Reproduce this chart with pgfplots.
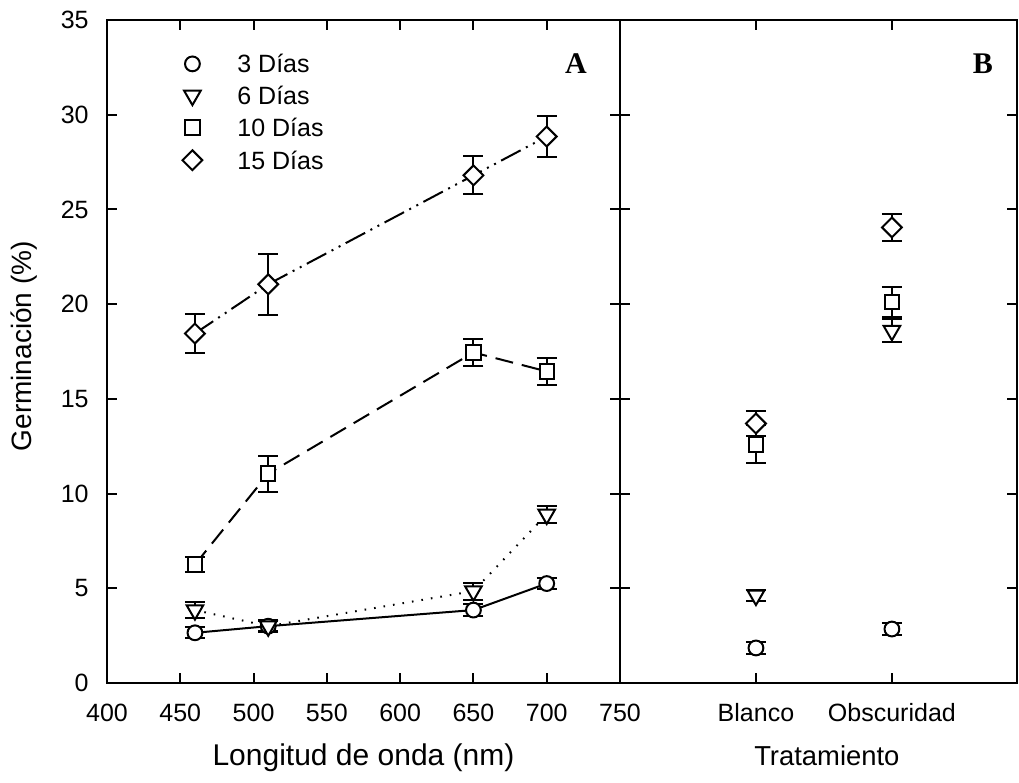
\documentclass[border=0pt]{standalone}
\usepackage{fontspec}
\setmainfont{Liberation Sans}
\newfontfamily\seriffam{Liberation Serif}
\usepackage{pgfplots}
\pgfplotsset{compat=1.18}
\usepackage{pgfplotstable}

% panel A: wavelength (nm), mean, error
\pgfplotstableread{
x y e
460 2.65 0.30
510 3.00 0.25
650 3.85 0.30
700 5.25 0.28
}\atres
\pgfplotstableread{
x y e
460 3.85 0.40
510 3.00 0.30
650 4.85 0.45
700 8.90 0.45
}\aseis
\pgfplotstableread{
x y e
460 6.25 0.40
510 11.05 0.95
650 17.45 0.70
700 16.45 0.70
}\adiez
\pgfplotstableread{
x y e
460 18.45 1.05
510 21.05 1.60
650 26.80 1.00
700 28.85 1.08
}\aquince

% panel B: 1 = Blanco, 2 = Obscuridad
\pgfplotstableread{
x y e
1 1.85 0.30
2 2.85 0.30
}\btres
\pgfplotstableread{
x y e
1 4.62 0.30
2 18.60 0.60
}\bseis
\pgfplotstableread{
x y e
1 12.60 1.00
2 20.10 0.80
}\bdiez
\pgfplotstableread{
x y e
1 13.70 0.67
2 24.05 0.72
}\bquince

\pgfplotsset{
  panel/.style={
    scale only axis, height=331.5pt,
    axis line style={line width=1pt},
    tick style={line width=1pt, black},
    tick align=inside, major tick length=5pt,
    ymin=0, ymax=35, ytick={0,5,...,35},
    xtick pos=both, ytick pos=both,
    xticklabel pos=lower, yticklabel pos=left,
    ticklabel style={font=\fontsize{12.5}{15}\selectfont},
    xticklabel style={anchor=north, inner sep=0pt, text height=9pt, text depth=0pt, yshift=-10pt},
    yticklabel style={anchor=east, inner sep=0pt, xshift=-9pt},
    /pgf/number format/assume math mode=true,
    clip=false,
  },
  errs/.style={error bars/.cd, y dir=both, y explicit, error mark=|,
    error bar style={solid, line width=1pt, black},
    error mark options={solid, line width=1pt, black, mark size=5pt}},
  d3/.style={black, line width=1pt, solid, mark=*, mark size=3.7pt,
    mark options={solid, fill=white, draw=black}},
  d6/.style={black, line width=1pt, dash pattern=on 0.8pt off 4pt, mark=triangle*, mark size=4.8pt,
    mark options={solid, fill=white, draw=black, rotate=180}},
  d10/.style={black, line width=1pt, dash pattern=on 9pt off 4.5pt, mark=square*, mark size=3.6pt,
    mark options={solid, fill=white, draw=black}},
  d15/.style={black, line width=1pt, dash pattern=on 11pt off 3pt on 1pt off 3pt on 1pt off 3pt,
    mark=square*, mark size=3.5pt, mark options={solid, fill=white, draw=black, rotate=45}},
}

\begin{document}
\begin{tikzpicture}
\begin{axis}[panel,
    at={(0,0)}, anchor=south west, width=256.5pt,
    xmin=400, xmax=750, xtick={400,450,...,750},
    xlabel={Longitud de onda (nm)},
    xlabel style={font=\fontsize{15}{18}\selectfont, at={(axis description cs:0.5,-0.1237)}, anchor=base},
    ylabel={Germinación (\%)},
    ylabel style={font=\fontsize{14}{17}\selectfont, at={(axis description cs:-0.1618,0.508)}, anchor=center},
    legend style={draw=none, fill=none, inner sep=0pt, at={(axis description cs:0.1326,0.948)}, anchor=north west,
      font=\fontsize{12.5}{15}\selectfont, row sep=6.8pt, column sep=14pt,
      nodes={inner sep=0pt, text height=9pt, text depth=0pt}},
    legend cell align=left,
    legend image code/.code={\path[draw=none, fill=none] (-8.5pt,-4.5pt) rectangle (8.5pt,4.5pt);
      \draw[#1] plot coordinates {(0pt,0pt)};},
  ]
  \addplot[d3, errs] table[x=x, y=y, y error=e] {\atres};
  \addplot[d6, errs] table[x=x, y=y, y error=e] {\aseis};
  \addplot[d10, errs] table[x=x, y=y, y error=e] {\adiez};
  \addplot[d15, errs] table[x=x, y=y, y error=e] {\aquince};
  \legend{3 Días, 6 Días, 10 Días, 15 Días}
  \node[font=\seriffam\bfseries\fontsize{15}{18}\selectfont] at (rel axis cs:0.914,0.934) {A};
\end{axis}
\begin{axis}[panel,
    at={(256.5pt,0)}, anchor=south west, width=198.5pt,
    xmin=0, xmax=2.92, xtick={1,2}, xticklabels={Blanco, Obscuridad},
    yticklabels={},
    xlabel={Tratamiento},
    xlabel style={font=\fontsize{13.7}{17}\selectfont, at={(axis description cs:0.521,-0.1237)}, anchor=base},
  ]
  \addplot[d3, only marks, errs] table[x=x, y=y, y error=e] {\btres};
  \addplot[d6, only marks, errs] table[x=x, y=y, y error=e] {\bseis};
  \addplot[d10, only marks, errs] table[x=x, y=y, y error=e] {\bdiez};
  \addplot[d15, only marks, errs] table[x=x, y=y, y error=e] {\bquince};
  \node[font=\seriffam\bfseries\fontsize{15}{18}\selectfont] at (rel axis cs:0.914,0.934) {B};
\end{axis}
\pgfresetboundingbox
\path[use as bounding box] (-53.5pt,-50pt) rectangle (456pt,341.5pt);
\end{tikzpicture}
\end{document}
